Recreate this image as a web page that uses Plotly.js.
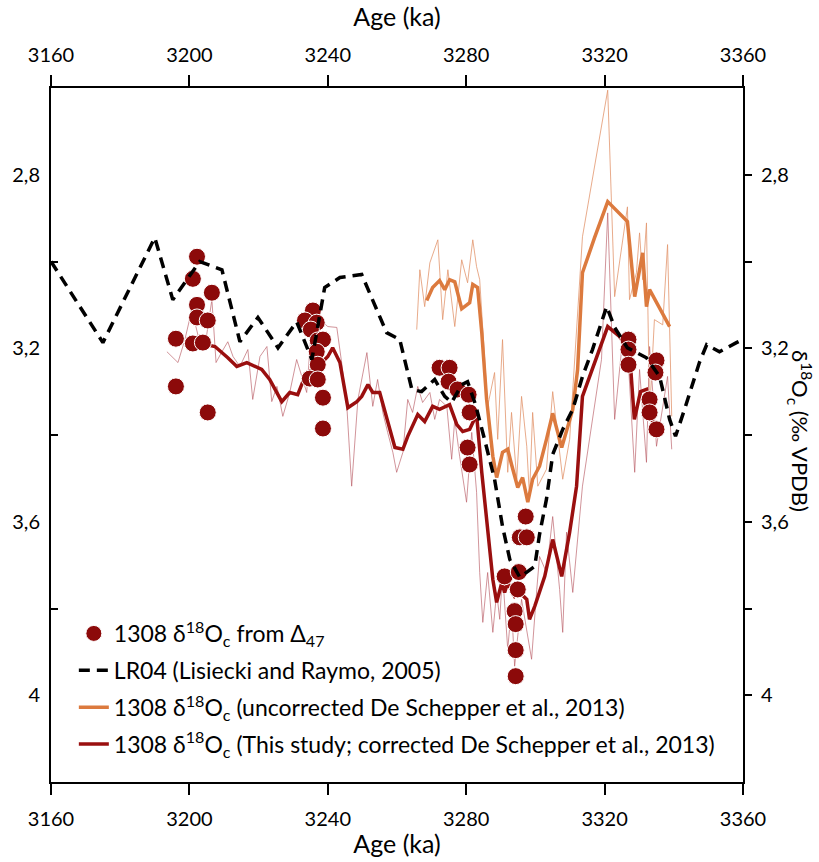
<!DOCTYPE html>
<html>
<head>
<meta charset="utf-8">
<script src="https://cdn.plot.ly/plotly-3.0.1.min.js"></script>
<style>
  html, body { margin: 0; padding: 0; background: #fff; }
  #chart { width: 819px; height: 862px; }
</style>
</head>
<body>
<div id="chart"></div>
<script>
// Site 1308 oxygen isotope records around the M2 glacial (ages in ka, δ18O in ‰ VPDB)

// LR04 benthic stack
const lr04Age = [3160.0, 3175.0, 3190.0, 3195.2, 3203.0, 3209.4, 3214.6, 3219.8, 3225.6, 3231.0,
  3235.4, 3239.1, 3243.5, 3249.8, 3257.0, 3260.8, 3264.3, 3267.1, 3270.9, 3273.8,
  3275.8, 3278.7, 3280.4, 3282.7, 3285.3, 3288.2, 3290.5, 3292.6, 3295.5, 3299.8,
  3301.2, 3303.2, 3305.0, 3307.9, 3310.8, 3313.6, 3316.5, 3320.6, 3322.9, 3326.6,
  3332.1, 3335.9, 3338.8, 3340.5, 3343.1, 3345.4, 3347.4, 3349.5, 3353.2, 3358.1, 3359.9];
const lr04D18O = [3.000, 3.187, 2.945, 3.088, 3.000, 3.019, 3.185, 3.129, 3.199, 3.139,
  3.226, 3.060, 3.037, 3.030, 3.164, 3.180, 3.295, 3.300, 3.272, 3.311,
  3.325, 3.284, 3.277, 3.330, 3.410, 3.502, 3.611, 3.687, 3.728, 3.703,
  3.629, 3.548, 3.445, 3.387, 3.341, 3.265, 3.203, 3.104, 3.152, 3.199,
  3.222, 3.265, 3.364, 3.403, 3.341, 3.284, 3.233, 3.192, 3.208, 3.187, 3.180];

// Clumped-isotope derived δ18Oc
const d47Age = [3202.2, 3201.0, 3206.5, 3202.2, 3202.2, 3205.3, 3196.1, 3201.0, 3203.9, 3196.1, 3205.3,
  3235.7, 3233.4, 3236.8, 3235.1, 3237.1, 3238.6, 3236.8, 3237.1, 3234.8, 3237.1, 3238.6, 3238.6,
  3272.3, 3275.2, 3274.9, 3277.5, 3280.7, 3281.0, 3280.4, 3281.0,
  3297.2, 3295.5, 3297.5, 3291.1, 3295.2, 3294.9, 3294.0, 3294.3, 3294.3, 3294.3,
  3326.9, 3326.9, 3326.9, 3335.0, 3334.7, 3333.0, 3333.0, 3335.0];
const d47D18O = [2.989, 3.040, 3.072, 3.100, 3.129, 3.136, 3.178, 3.189, 3.187, 3.288, 3.348,
  3.113, 3.136, 3.141, 3.157, 3.182, 3.180, 3.208, 3.238, 3.270, 3.272, 3.314, 3.385,
  3.245, 3.245, 3.277, 3.295, 3.307, 3.348, 3.429, 3.468,
  3.588, 3.636, 3.636, 3.726, 3.716, 3.756, 3.806, 3.836, 3.896, 3.956,
  3.180, 3.203, 3.238, 3.228, 3.256, 3.318, 3.348, 3.387];

// Uncorrected record (De Schepper et al., 2013): raw and smoothed
const rawUncAge = [3265.7, 3266.6, 3268.0, 3269.5, 3271.8, 3273.2, 3274.7, 3276.7, 3278.7, 3280.4,
  3281.9, 3283.0, 3283.9, 3286.2, 3288.2, 3289.1, 3290.5, 3292.0, 3293.1, 3294.6,
  3296.0, 3297.5, 3298.3, 3299.2, 3300.7, 3303.2, 3305.0, 3307.9, 3309.9, 3313.6,
  3320.9, 3322.9, 3326.6, 3327.2, 3329.2, 3330.1, 3331.0, 3332.1, 3333.0, 3334.4,
  3336.8, 3338.2, 3339.4];
const rawUncD18O = [3.157, 3.019, 3.104, 3.003, 2.950, 3.134, 3.019, 3.150, 2.996, 3.049,
  2.950, 3.012, 3.042, 3.334, 3.256, 3.410, 3.180, 3.486, 3.348, 3.502,
  3.311, 3.426, 3.542, 3.348, 3.518, 3.479, 3.300, 3.502, 3.410, 2.943,
  2.605, 3.081, 2.874, 3.088, 3.026, 2.934, 3.042, 2.911, 3.348, 3.134,
  3.146, 2.961, 3.357];
const smUncAge = [3268.6, 3270.3, 3272.3, 3273.8, 3275.2, 3276.7, 3278.7, 3281.0, 3281.9, 3283.3,
  3284.5, 3285.9, 3287.7, 3288.8, 3290.5, 3292.0, 3293.1, 3294.9, 3296.3, 3297.8,
  3299.2, 3301.2, 3303.2, 3305.0, 3307.6, 3310.8, 3312.2, 3313.6, 3317.1, 3320.9,
  3326.6, 3328.7, 3331.0, 3332.1, 3333.0, 3338.8];
const smUncD18O = [3.090, 3.060, 3.044, 3.065, 3.042, 3.047, 3.109, 3.095, 3.053, 3.060,
  3.164, 3.318, 3.449, 3.498, 3.440, 3.433, 3.468, 3.521, 3.498, 3.555,
  3.502, 3.472, 3.410, 3.350, 3.429, 3.341, 3.249, 3.026, 2.945, 2.862,
  2.908, 3.081, 2.980, 3.104, 3.065, 3.150];

// Corrected record (this study): raw and smoothed
const rawCorAge = [3193.5, 3196.7, 3198.7, 3200.7, 3203.0, 3204.5, 3206.5, 3207.7, 3209.4, 3211.1,
  3212.6, 3214.6, 3216.9, 3218.3, 3220.4, 3222.4, 3223.8, 3225.3, 3227.0, 3229.0,
  3231.0, 3233.9, 3235.4, 3237.7, 3240.0, 3242.6, 3244.0, 3245.5, 3246.9, 3248.7,
  3251.3, 3253.0, 3254.4, 3255.9, 3257.3, 3258.8, 3259.9, 3261.7, 3263.1, 3264.5,
  3266.0, 3267.4, 3269.5, 3270.9, 3272.3, 3274.4, 3275.8, 3276.7, 3278.1, 3280.1,
  3281.6, 3283.0, 3283.9, 3284.8, 3286.2, 3287.7, 3288.8, 3289.7, 3290.5, 3292.0,
  3293.1, 3294.0, 3296.0, 3297.5, 3298.9, 3300.4, 3301.2, 3303.2, 3305.0, 3307.0,
  3307.9, 3309.0, 3310.8, 3313.6, 3316.5, 3319.1, 3320.9, 3322.9, 3325.2, 3326.6,
  3328.7, 3330.1, 3332.1, 3333.0, 3335.0, 3338.2, 3339.4];
const rawCorD18O = [3.208, 3.233, 3.180, 3.111, 3.187, 3.196, 3.088, 3.233, 3.208, 3.185,
  3.219, 3.242, 3.203, 3.318, 3.219, 3.196, 3.323, 3.288, 3.357, 3.302,
  3.226, 3.302, 3.141, 3.134, 3.150, 3.152, 3.233, 3.334, 3.518, 3.318,
  3.210, 3.334, 3.272, 3.348, 3.394, 3.440, 3.486, 3.440, 3.318, 3.348,
  3.288, 3.325, 3.302, 3.364, 3.318, 3.334, 3.456, 3.364, 3.449, 3.555,
  3.394, 3.532, 3.717, 3.832, 3.717, 3.855, 3.763, 3.825, 3.717, 3.894,
  3.795, 3.933, 3.779, 3.855, 3.917, 3.756, 3.680, 3.717, 3.588, 3.756,
  3.855, 3.624, 3.763, 3.518, 3.364, 3.226, 2.888, 3.364, 3.180, 3.196,
  3.486, 3.249, 3.463, 3.196, 3.426, 3.265, 3.433];
const smCorAge = [3202.2, 3207.4, 3211.1, 3213.7, 3216.6, 3220.9, 3223.2, 3226.7, 3229.0, 3231.3,
  3233.4, 3235.4, 3237.7, 3240.0, 3241.4, 3243.5, 3245.8, 3248.4, 3249.8, 3251.6,
  3253.0, 3255.0, 3259.4, 3261.7, 3263.1, 3266.0, 3268.0, 3270.3, 3272.3, 3275.2,
  3277.3, 3279.0, 3281.0, 3283.0, 3284.5, 3286.2, 3287.7, 3288.8, 3290.3, 3291.1,
  3292.0, 3294.0, 3295.5, 3297.5, 3298.3, 3299.8, 3301.2, 3302.7, 3305.0, 3307.6,
  3309.9, 3311.9, 3313.6, 3316.5, 3320.9, 3324.3, 3327.2, 3328.6, 3330.4, 3332.1, 3333.9];
const smCorD18O = [3.187, 3.196, 3.222, 3.242, 3.233, 3.249, 3.272, 3.323, 3.302, 3.307,
  3.265, 3.249, 3.238, 3.219, 3.199, 3.233, 3.337, 3.323, 3.311, 3.284,
  3.302, 3.302, 3.429, 3.433, 3.403, 3.353, 3.369, 3.334, 3.341, 3.330,
  3.376, 3.392, 3.387, 3.353, 3.486, 3.624, 3.733, 3.786, 3.740, 3.763,
  3.740, 3.772, 3.763, 3.779, 3.825, 3.795, 3.763, 3.726, 3.641, 3.726,
  3.624, 3.518, 3.311, 3.249, 3.150, 3.173, 3.208, 3.364, 3.300, 3.295, 3.371];

// Axis ticks
const ageTicks = [3160, 3200, 3240, 3280, 3320, 3360];
const ageRange = [3160, 3360];
const d18ORange = [4.2, 2.6];

const FONT = 'Lato, "Liberation Sans", sans-serif';
const darkRed = '#8c0a0a';
const corRed = '#9a0f0f';
const uncOrange = '#dc7a3e';

const traces = [
  { x: rawUncAge, y: rawUncD18O, mode: 'lines', showlegend: false,
    line: { color: 'rgba(226,150,110,0.8)', width: 1 } },
  { x: rawCorAge, y: rawCorD18O, mode: 'lines', showlegend: false,
    line: { color: 'rgba(185,90,100,0.65)', width: 1 } },
  { x: smUncAge, y: smUncD18O, mode: 'lines', legendgroup: 'unc', legendrank: 3,
    name: '1308 δ<sup>18</sup>O<sub>c</sub> (uncorrected De Schepper et al., 2013)',
    line: { color: uncOrange, width: 3.5 } },
  { x: smCorAge, y: smCorD18O, mode: 'lines', legendgroup: 'cor', legendrank: 4,
    name: '1308 δ<sup>18</sup>O<sub>c</sub> (This study; corrected De Schepper et al., 2013)',
    line: { color: corRed, width: 3.5 } },
  { x: d47Age, y: d47D18O, mode: 'markers', legendgroup: 'd47', legendrank: 1,
    name: '1308 δ<sup>18</sup>O<sub>c</sub> from Δ<sub>47</sub>',
    marker: { color: darkRed, size: 17, line: { color: '#ffffff', width: 1 } } },
  { x: lr04Age, y: lr04D18O, mode: 'lines', xaxis: 'x2', yaxis: 'y2', legendgroup: 'lr04', legendrank: 2,
    name: 'LR04 (Lisiecki and Raymo, 2005)',
    line: { color: '#000000', width: 3.5, dash: '11px,7px' } }
];

const tickFont = { family: FONT, size: 20, color: '#000' };
const titleFont = { family: FONT, size: 25, color: '#000' };

const xCommon = {
  range: ageRange, autorange: false, tickvals: ageTicks,
  ticks: 'outside', ticklen: 11, tickwidth: 2, tickcolor: '#000',
  showline: true, linewidth: 2, linecolor: '#000',
  showgrid: false, zeroline: false, tickfont: tickFont
};
const yCommon = {
  range: d18ORange, autorange: false, tick0: 2.8, dtick: 0.4,
  ticks: 'inside', ticklen: 0, tickwidth: 2, tickcolor: '#000',
  minor: { tick0: 2.8, dtick: 0.2, ticklen: 7, tickwidth: 2, tickcolor: '#000' },
  showline: true, linewidth: 2, linecolor: '#000',
  showgrid: false, zeroline: false, tickfont: tickFont
};

const layout = {
  width: 819, height: 862,
  margin: { l: 51, r: 76, t: 88, b: 80 },
  paper_bgcolor: '#fff', plot_bgcolor: '#fff',
  separators: ',.',
  font: { family: FONT, color: '#000' },
  showlegend: true,
  legend: {
    x: 0.033, xanchor: 'left', y: 0.245, yanchor: 'top',
    bgcolor: 'rgba(0,0,0,0)', borderwidth: 0,
    font: { family: FONT, size: 23, color: '#000' },
    tracegroupgap: 4, traceorder: 'grouped'
  },
  xaxis: Object.assign({}, xCommon, {
    side: 'bottom', anchor: 'y', ticklabelstandoff: 7,
    title: { text: 'Age (ka)', font: titleFont, standoff: 6 }
  }),
  xaxis2: Object.assign({}, xCommon, {
    side: 'top', anchor: 'y2', overlaying: 'x', matches: 'x', ticklabelstandoff: 5,
    title: { text: 'Age (ka)', font: titleFont, standoff: 8 }
  }),
  yaxis: Object.assign({}, yCommon, {
    side: 'left', anchor: 'x', ticklabelstandoff: 5,
    minor: Object.assign({}, yCommon.minor, { ticks: 'inside' })
  }),
  yaxis2: Object.assign({}, yCommon, {
    side: 'right', anchor: 'x2', overlaying: 'y', matches: 'y', ticklabelstandoff: 12,
    minor: Object.assign({}, yCommon.minor, { ticks: 'outside' })
  }),
  annotations: [{
    text: 'δ<sup>18</sup>O<sub>c</sub> (‰ VPDB)', textangle: 90,
    xref: 'paper', yref: 'paper', x: 1.083, y: 0.505,
    xanchor: 'center', yanchor: 'middle', showarrow: false,
    font: { family: FONT, size: 22, color: '#000' }
  }]
};

Plotly.newPlot('chart', traces, layout, { staticPlot: true, displayModeBar: false });
</script>
</body>
</html>
